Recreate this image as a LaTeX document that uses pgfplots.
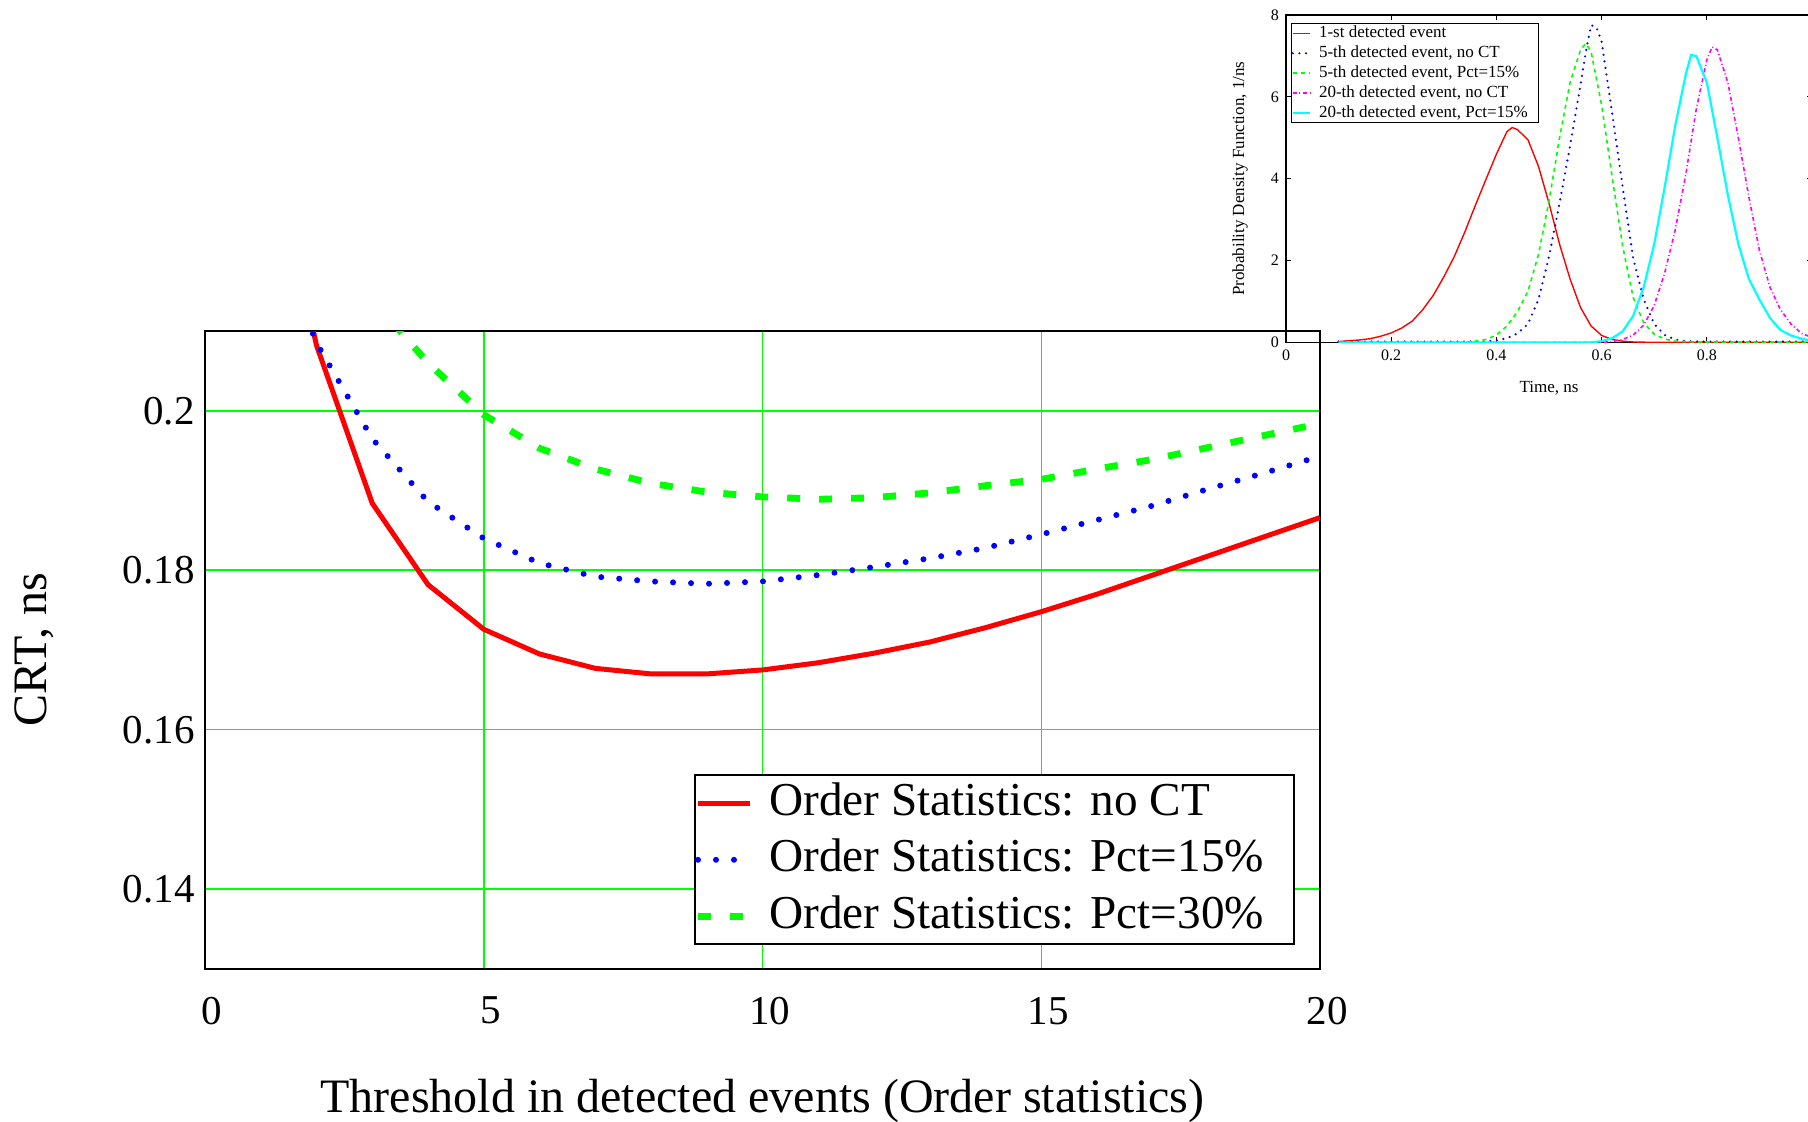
\documentclass[border=0pt]{standalone}
\usepackage{fontspec}
\setmainfont{Liberation Serif}
\usepackage{pgfplots}
\pgfplotsset{compat=1.18}
\definecolor{pgreen}{RGB}{0,255,0}
\definecolor{pred}{RGB}{255,0,0}
\definecolor{pblue}{RGB}{0,0,255}
\definecolor{pcyan}{RGB}{0,255,255}
\definecolor{pmagenta}{RGB}{255,0,255}

\begin{document}
\begin{tikzpicture}
\begin{axis}[
 at={(102.5pt,76.5pt)}, anchor=south west,
 scale only axis, width=557.5pt, height=319pt,
 xmin=0, xmax=20, ymin=0.13, ymax=0.21,
 xtick={0,5,10,15,20}, ytick={0.14,0.16,0.18,0.2},
 xticklabels={0,5,10,15,20},
 yticklabels={0.14,0.16,0.18,0.2},
 major tick length=0pt,
 grid=major, grid style={color=pgreen, line width=0.75pt},
 axis line style={line width=1pt},
 tick label style={font=\fontsize{20.5}{24}\selectfont},
 xticklabel style={yshift=-10.5pt, xshift=3.5pt},
 yticklabel style={xshift=-1.7pt},
 xlabel={Threshold in detected events (Order statistics)},
 ylabel={CRT, ns},
 label style={font=\fontsize{24}{28}\selectfont},
 xlabel style={at={(axis description cs:0.5,-0.2070)}, anchor=center},
 ylabel style={at={(axis description cs:-0.1529,0.5)}, anchor=center},
 legend style={at={(1,0)}, anchor=south east, xshift=-12.5pt, yshift=11.8pt,
   draw=black, line width=1pt, font=\fontsize{23.6}{28}\selectfont,
   inner sep=0pt, row sep=0pt,
   nodes={inner ysep=3.1pt, inner xsep=0pt, text height=17pt, text depth=5pt},
   /tikz/every odd column/.append style={column sep=8pt}},
 legend cell align=left,
 legend image code/.code={\draw[#1] (0pt,0pt) -- (26pt,0pt);},
]
\addplot[color=pred, line width=2.5pt] coordinates {
(1,0.240)(2,0.2082)(3,0.1884)(4,0.1782)(5,0.1726)(6,0.1695)(7,0.1677)(8,0.1670)(9,0.1670)(10,0.1675)
(11,0.1684)(12,0.1696)(13,0.1710)(14,0.1728)(15,0.1748)(16,0.1770)(17,0.1794)(18,0.1818)(19,0.1842)(20,0.1866)};
\addlegendentry{Order Statistics: no CT\hspace*{15pt}}
\addplot[color=pblue, line width=3pt, line cap=round, dash pattern=on 0pt off 9pt] coordinates {
(1,0.2265)(2,0.2085)(3,0.1965)(4,0.1886)(5,0.1840)(6,0.1809)(7,0.1792)(8,0.1786)(9,0.1783)(10,0.1786)
(11,0.1794)(12,0.1804)(13,0.1815)(14,0.1828)(15,0.1845)(16,0.1863)(17,0.1881)(18,0.1902)(19,0.1922)(20,0.1943)};
\addlegendentry{Order Statistics: Pct=15\%\hspace*{15pt}}
\addplot[color=pgreen, line width=3.4pt, dash pattern=on 6.5pt off 9.5pt] coordinates {
(3,0.2140)(4,0.2060)(5,0.1995)(6,0.1953)(7,0.1927)(8,0.1909)(9,0.1898)(10,0.1892)
(11,0.1889)(12,0.1891)(13,0.1897)(14,0.1906)(15,0.1914)(16,0.1927)(17,0.1939)(18,0.1954)(19,0.1969)(20,0.1984)};
\addlegendentry{Order Statistics: Pct=30\%\hspace*{15pt}}
\end{axis}

\begin{axis}[
 at={(643pt,389.8pt)}, anchor=south west,
 scale only axis, width=263pt, height=163.7pt,
 xmin=0, xmax=1, ymin=0, ymax=8,
 xtick={0,0.2,0.4,0.6,0.8}, xticklabels={0,0.2,0.4,0.6,0.8},
 ytick={0,2,4,6,8}, yticklabels={0,2,4,6,8},
 tick align=inside, major tick length=2.5pt,
 tick style={black, line width=0.5pt},
 axis line style={line width=0.6pt},
 tick label style={font=\fontsize{8}{9}\selectfont},
 xlabel={Time, ns},
 ylabel={Probability Density Function, 1/ns},
 label style={font=\fontsize{8.5}{10}\selectfont},
 xlabel style={at={(axis description cs:0.5,-0.1405)}, anchor=center},
 ylabel style={at={(axis description cs:-0.0875,0.5)}, anchor=center},
 legend style={at={(0,1)}, anchor=north west, xshift=2.5pt, yshift=-4pt,
   draw=black, line width=0.6pt, font=\fontsize{8.5}{10}\selectfont,
   inner sep=0pt, row sep=0pt,
   nodes={inner ysep=0.95pt, inner xsep=0pt, text height=6.2pt, text depth=1.8pt},
   /tikz/every odd column/.append style={column sep=4pt}},
 legend cell align=left,
 legend image code/.code={\draw[#1] (0.5pt,0pt) -- (9pt,0pt);},
]
\addplot[color=pred, line width=0.7pt] coordinates {
(0.10,0.02)(0.12,0.04)(0.14,0.06)(0.16,0.09)(0.18,0.15)(0.20,0.23)(0.22,0.35)(0.24,0.52)(0.26,0.80)(0.28,1.15)
(0.30,1.60)(0.32,2.10)(0.34,2.70)(0.36,3.35)(0.38,3.98)(0.40,4.60)(0.42,5.15)(0.43,5.25)(0.44,5.20)(0.46,4.95)
(0.48,4.30)(0.50,3.40)(0.52,2.40)(0.54,1.55)(0.56,0.85)(0.58,0.40)(0.60,0.17)(0.62,0.07)(0.64,0.03)(0.66,0.01)(0.70,0)(1.0,0)};
\addlegendentry{1-st detected event\hspace*{5.5pt}}
\addplot[color=pblue, line width=1.2pt, line cap=round, dash pattern=on 0pt off 3.3pt] coordinates {
(0.10,0.02)(0.38,0.02)(0.40,0.05)(0.42,0.10)(0.44,0.22)(0.46,0.45)(0.48,1.05)(0.50,2.10)(0.52,3.40)(0.54,4.80)
(0.56,6.30)(0.57,7.10)(0.58,7.75)(0.59,7.70)(0.60,7.35)(0.62,5.60)(0.64,3.80)(0.66,2.05)(0.68,1.05)(0.70,0.45)
(0.72,0.18)(0.74,0.07)(0.76,0.03)(0.80,0.02)(1.0,0.02)};
\addlegendentry{5-th detected event, no CT\hspace*{5.5pt}}
\addplot[color=pgreen, line width=0.8pt, dash pattern=on 2pt off 2pt] coordinates {
(0.10,0)(0.34,0)(0.36,0.03)(0.38,0.07)(0.40,0.18)(0.42,0.40)(0.44,0.75)(0.46,1.25)(0.48,2.15)(0.50,3.45)
(0.52,5.00)(0.54,6.35)(0.56,7.15)(0.57,7.30)(0.58,7.10)(0.60,5.80)(0.62,4.05)(0.64,2.35)(0.66,1.10)(0.68,0.48)
(0.70,0.20)(0.72,0.08)(0.74,0.03)(0.78,0.01)(1.0,0)};
\addlegendentry{5-th detected event, Pct=15\%\hspace*{5.5pt}}
\addplot[color=pmagenta, line width=0.8pt, dash pattern=on 2pt off 1.3pt on 0.5pt off 1.3pt] coordinates {
(0.10,0)(0.60,0)(0.62,0.02)(0.64,0.07)(0.66,0.18)(0.68,0.42)(0.70,0.90)(0.72,1.70)(0.74,2.75)(0.76,4.10)
(0.78,5.70)(0.80,6.90)(0.81,7.22)(0.82,7.15)(0.84,6.35)(0.86,5.00)(0.88,3.55)(0.90,2.25)(0.92,1.35)(0.94,0.80)
(0.96,0.45)(0.98,0.22)(1.00,0.12)};
\addlegendentry{20-th detected event, no CT\hspace*{5.5pt}}
\addplot[color=pcyan, line width=1.1pt] coordinates {
(0.10,0)(0.58,0)(0.60,0.03)(0.62,0.10)(0.64,0.27)(0.66,0.65)(0.68,1.35)(0.70,2.40)(0.72,3.80)(0.74,5.30)
(0.76,6.55)(0.77,7.02)(0.78,7.00)(0.80,6.35)(0.82,5.00)(0.84,3.60)(0.86,2.40)(0.88,1.55)(0.90,1.05)(0.92,0.60)
(0.94,0.30)(0.96,0.17)(0.98,0.09)(1.00,0.04)};
\addlegendentry{20-th detected event, Pct=15\%\hspace*{5.5pt}}
\end{axis}
\pgfresetboundingbox
\useasboundingbox (0,0) rectangle (904pt,561pt);
\end{tikzpicture}
\end{document}
